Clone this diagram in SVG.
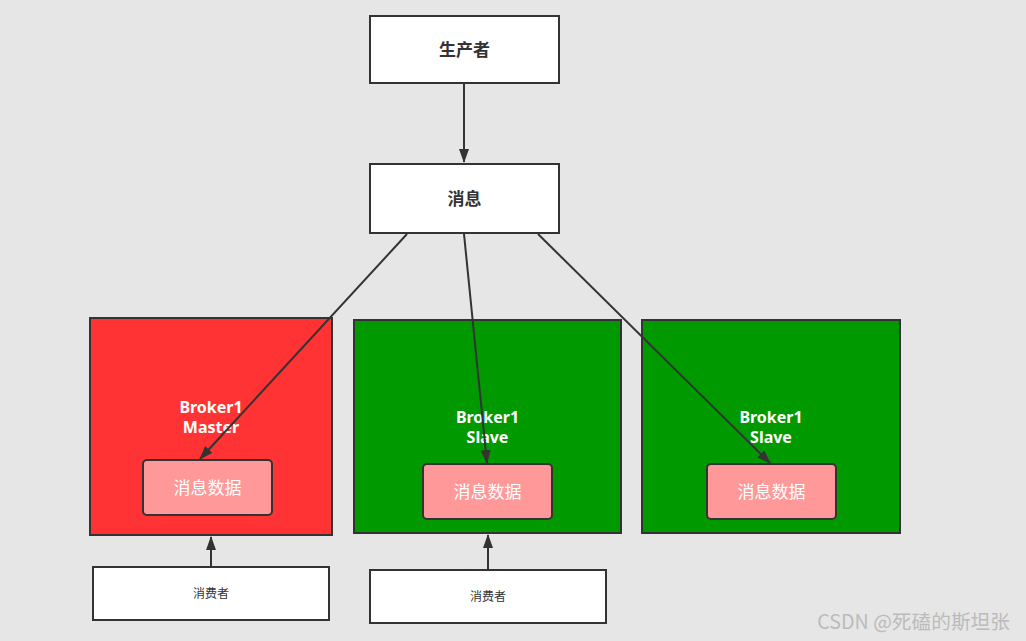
<svg xmlns="http://www.w3.org/2000/svg" width="1026" height="641" viewBox="0 0 1026 641">
<defs>
<style>
.box{fill:#fff;stroke:#333;stroke-width:2}
.t{font-family:"Noto Sans CJK SC","Noto Sans",sans-serif;fill:#333;text-anchor:middle}
.b{font-family:"Noto Sans","Noto Sans CJK SC",sans-serif;font-weight:bold;font-size:16px;fill:#fff;text-anchor:middle}
.inner{fill:#FF9999;stroke:#333;stroke-width:2}
.it{font-family:"Noto Sans CJK SC",sans-serif;font-size:17px;fill:#fff;text-anchor:middle}
.c{stroke:#333;stroke-width:2;fill:none;marker-end:url(#ah)}
</style>
<marker id="ah" viewBox="0 0 14 10" refX="13" refY="5" markerWidth="7" markerHeight="5" orient="auto" markerUnits="strokeWidth">
<path d="M0,0 L14,5 L0,10 z" fill="#333"/>
</marker>
</defs>
<rect width="1026" height="641" fill="#e6e6e6"/>
<g id="producer">
<rect class="box" x="370" y="16" width="189" height="67"/>
<text class="t" x="464.5" y="56" font-size="17" font-weight="bold">生产者</text>
</g>
<g id="message">
<rect class="box" x="370" y="164" width="189" height="69"/>
<text class="t" x="464.5" y="205" font-size="17" font-weight="bold">消息</text>
</g>
<g id="master">
<rect x="90" y="318" width="242" height="217" fill="#FF3333" stroke="#333" stroke-width="2"/>
<text class="b" x="211" y="413">Broker1</text>
<text class="b" x="211" y="433">Master</text>
<rect class="inner" x="143" y="460" width="129" height="55" rx="4"/>
<text class="it" x="207.5" y="494">消息数据</text>
</g>
<g id="slave1">
<rect x="354" y="320" width="267" height="213" fill="#009900" stroke="#333" stroke-width="2"/>
<text class="b" x="487.5" y="423">Broker1</text>
<text class="b" x="487.5" y="443">Slave</text>
<rect class="inner" x="423" y="464" width="129" height="55" rx="4"/>
<text class="it" x="487.5" y="498">消息数据</text>
</g>
<g id="slave2">
<rect x="642" y="320" width="258" height="213" fill="#009900" stroke="#333" stroke-width="2"/>
<text class="b" x="771" y="423">Broker1</text>
<text class="b" x="771" y="443">Slave</text>
<rect class="inner" x="707" y="464" width="129" height="55" rx="4"/>
<text class="it" x="771.5" y="498">消息数据</text>
</g>
<g id="consumer1">
<rect class="box" x="93" y="567" width="236" height="53"/>
<text class="t" x="211" y="598" font-size="12">消费者</text>
</g>
<g id="consumer2">
<rect class="box" x="370" y="570" width="236" height="53"/>
<text class="t" x="488" y="601" font-size="12">消费者</text>
</g>
<g id="connectors">
<line class="c" x1="464" y1="83" x2="464" y2="162"/>
<line class="c" x1="407" y1="234" x2="200" y2="459"/>
<line class="c" x1="464" y1="234" x2="487" y2="463"/>
<line class="c" x1="538" y1="234" x2="770" y2="463"/>
<line class="c" x1="211" y1="567" x2="211" y2="537"/>
<line class="c" x1="488" y1="570" x2="488" y2="535"/>
</g>
<text x="1010" y="629" font-family="Noto Sans CJK SC,Noto Sans,sans-serif" font-size="19.7" fill="#bbb" text-anchor="end">CSDN @死磕的斯坦张</text>
</svg>
